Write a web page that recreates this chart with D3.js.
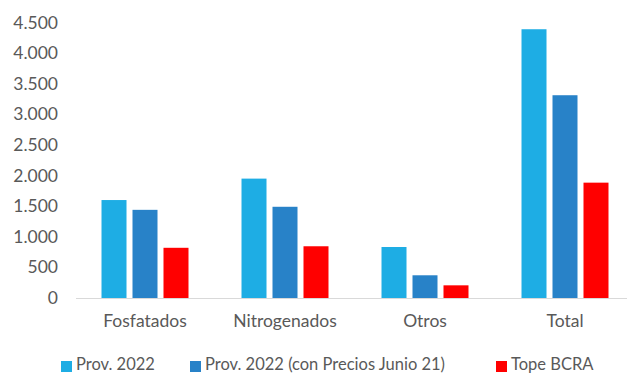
<!DOCTYPE html>
<html>
<head>
<meta charset="utf-8">
<script src="https://cdn.jsdelivr.net/npm/d3@7"></script>
<style>
  body { margin: 0; background: #fff; }
  text { font-family: Lato, "Open Sans", sans-serif; fill: #595959; }
</style>
</head>
<body>
<div id="chart"></div>
<script>
// data
var categories = ["Fosfatados", "Nitrogenados", "Otros", "Total"];
var seriesNames = ["Prov. 2022", "Prov. 2022 (con Precios Junio 21)", "Tope BCRA"];
var prov2022 = [1600, 1950, 833, 4390];
var provPrecios = [1440, 1490, 371, 3312];
var topeBCRA = [820, 845, 207, 1884];
var yTicks = [0, 500, 1000, 1500, 2000, 2500, 3000, 3500, 4000, 4500];

var colors = ["#1eade4", "#2882c8", "#ff0000"];
var width = 627, height = 374;
var fontSize = "17.5px";

var svg = d3.select("#chart")
  .append("svg")
  .attr("width", width)
  .attr("height", height)

var x = d3.scaleBand().domain(categories).range([75, 635])
var y = d3.scaleLinear().domain([0, 4500]).range([298, 22.5])

var inner = d3.scaleBand().domain(d3.range(3)).range([0, x.bandwidth()]).paddingInner(0.1935).paddingOuter(0.855)

var all = [prov2022, provPrecios, topeBCRA];

// y axis labels
svg.append("g")
  .attr("transform", "translate(58,0)")
  .call(d3.axisLeft(y).tickValues(yTicks).tickSize(0).tickPadding(0)
    .tickFormat(function (d) { return d3.format(",")(d).replace(/,/g, "."); }))
  .call(function (g) { g.select(".domain").remove(); })
  .selectAll("text")
  .style("font-size", fontSize)
  .attr("fill", "#595959")

// bars
categories.forEach(function (c, ci) {
  svg.append("g")
    .selectAll("rect")
    .data(all.map(function (s, si) { return { s: si, v: s[ci] }; }))
    .enter()
    .append("rect")
    .attr("x", function (d) { return x(c) + inner(d.s); })
    .attr("width", inner.bandwidth())
    .attr("y", function (d) { return y(d.v); })
    .attr("height", function (d) { return y(0) - y(d.v); })
    .attr("fill", function (d) { return colors[d.s]; })
})

// baseline
svg.append("line")
  .attr("x1", 76).attr("x2", 635)
  .attr("y1", y(0) + 0.5).attr("y2", y(0) + 0.5)
  .attr("stroke", "#d9d9d9")
  .attr("stroke-width", 1)

// category labels
svg.append("g")
  .attr("transform", "translate(0," + (y(0) + 17) + ")")
  .call(d3.axisBottom(x).tickSize(0).tickPadding(0))
  .call(function (g) { g.select(".domain").remove(); })
  .selectAll("text")
  .style("font-size", fontSize)
  .attr("fill", "#595959")

// legend (sits at the very bottom edge, like the original)
var legendX = [61, 190, 496];
var leg = svg.append("g")
  .selectAll("g")
  .data(seriesNames)
  .enter()
  .append("g")
  .attr("transform", function (d, i) { return "translate(" + legendX[i] + ",361)"; })

leg.append("rect")
  .attr("width", 11).attr("height", 11)
  .attr("fill", function (d, i) { return colors[i]; })

leg.append("text")
  .attr("x", 15)
  .attr("y", 9)
  .style("font-size", "16.5px")
  .text(function (d) { return d; })
</script>
</body>
</html>
